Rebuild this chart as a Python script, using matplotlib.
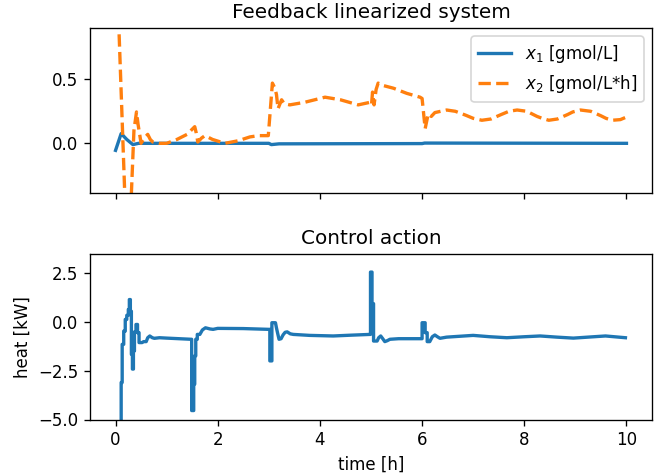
import matplotlib
matplotlib.use("Agg")
import matplotlib.pyplot as plt

# x1 state
t_x1 = [0.0, 0.11, 0.22, 0.34, 0.45, 3.0, 3.05, 3.2, 6.0, 6.05, 10.0]
x1 = [-0.055, 0.076, 0.03, -0.01, 0.0, 0.0, -0.01, -0.004, -0.002, 0.002, 0.0]

# x2 state
t_x2 = [0.0, 0.07, 0.18, 0.24, 0.31, 0.36, 0.41, 0.44, 0.50, 0.56, 0.63, 0.68, 0.73,
        0.85, 1.0, 1.2, 1.4, 1.55, 1.58, 1.61, 1.68, 1.75, 1.9, 2.14, 2.4, 2.63, 2.8,
        2.99, 3.07, 3.12, 3.15, 3.18, 3.25, 3.3, 3.41, 3.7, 4.1, 4.4, 4.75, 4.98, 5.01,
        5.03, 5.06, 5.10, 5.14, 5.25, 5.44, 5.7, 5.96, 6.0, 6.06, 6.12, 6.18, 6.25,
        6.48, 6.65, 6.85, 7.0, 7.17, 7.35, 7.55, 7.7, 7.86, 8.05, 8.25, 8.35, 8.48,
        8.65, 8.85, 8.95, 9.1, 9.3, 9.5, 9.6, 9.72, 9.88, 10.0]
x2 = [1.6, 0.85, -0.39, -0.6, -0.39, 0.10, 0.245, 0.15, 0.0, 0.04, 0.07, 0.03, 0.01,
      0.0, 0.0, 0.03, 0.07, 0.13, 0.08, 0.01, 0.04, 0.06, 0.03, 0.0, 0.02, 0.05, 0.06,
      0.06, 0.47, 0.43, 0.38, 0.27, 0.34, 0.31, 0.30, 0.32, 0.36, 0.34, 0.30, 0.32, 0.30,
      0.40, 0.30, 0.42, 0.47, 0.45, 0.43, 0.39, 0.36, 0.35, 0.115, 0.23, 0.21, 0.24,
      0.26, 0.25, 0.22, 0.195, 0.18, 0.19, 0.225, 0.25, 0.26, 0.25, 0.21, 0.195, 0.18,
      0.19, 0.225, 0.245, 0.26, 0.25, 0.215, 0.195, 0.18, 0.185, 0.205]

# control action
t_u = [0.0, 0.11, 0.11, 0.13, 0.13, 0.16, 0.16, 0.19, 0.19, 0.22, 0.22, 0.25, 0.25, 0.27,
       0.27, 0.29, 0.29, 0.31, 0.31, 0.33, 0.33, 0.35, 0.35, 0.37, 0.37, 0.40, 0.40, 0.43,
       0.43, 0.46, 0.46, 0.52, 0.55, 0.6, 0.63, 0.67, 0.72, 0.76, 0.86, 1.0, 1.48, 1.49,
       1.49, 1.53, 1.53, 1.55, 1.55, 1.57, 1.57, 1.60, 1.60, 1.65, 1.7, 1.76, 1.85, 1.91,
       2.0, 2.5, 3.0, 3.02, 3.02, 3.06, 3.06, 3.13, 3.15, 3.17, 3.2, 3.24, 3.28, 3.32,
       3.36, 3.42, 3.48, 3.8, 4.26, 4.6, 4.98, 4.99, 4.99, 5.02, 5.02, 5.05, 5.05, 5.12,
       5.15, 5.19, 5.23, 5.27, 5.32, 5.37, 5.54, 5.99, 6.0, 6.0, 6.06, 6.06, 6.1, 6.1,
       6.15, 6.2, 6.25, 6.3, 6.35, 6.48, 7.0, 7.33, 7.66, 8.0, 8.31, 8.64, 8.96, 9.3,
       9.59, 9.98]
u = [-8.0, -8.0, -3.1, -3.1, -1.14, -1.14, -0.46, -0.46, 0.14, 0.14, 0.35, 0.35, 0.65, 0.65,
     1.16, 1.16, 0.56, 0.56, -1.65, -1.65, -2.41, -2.41, -1.48, -1.48, -0.5, -0.5, -0.12, -0.12,
     -0.54, -0.54, -1.05, -1.05, -1.0, -1.0, -0.8, -0.71, -0.8, -0.83, -0.80, -0.82, -0.88, -0.88,
     -4.54, -4.54, -3.18, -3.18, -1.73, -1.73, -0.88, -0.88, -0.63, -0.63, -0.4, -0.29, -0.35, -0.37,
     -0.32, -0.33, -0.37, -0.37, -1.99, -1.99, -0.03, -0.03, -0.3, -0.54, -0.88, -0.85, -0.65, -0.52,
     -0.5, -0.6, -0.63, -0.68, -0.71, -0.67, -0.63, -0.63, 2.57, 2.57, 0.95, 0.95, -0.97, -0.97,
     -0.8, -0.71, -0.85, -1.0, -0.95, -0.88, -0.85, -0.85, -0.85, -0.03, -0.03, -0.54, -0.54, -1.0,
     -1.0, -0.75, -0.66, -0.75, -0.83, -0.77, -0.68, -0.75, -0.80, -0.75, -0.71, -0.77, -0.82, -0.76,
     -0.71, -0.80]

fig = plt.figure(figsize=(659 / 120, 475 / 120), dpi=120)
ax1 = fig.add_axes([90 / 659, 1 - 193.3 / 475, 562 / 659, 165.3 / 475])
ax2 = fig.add_axes([90 / 659, 1 - 419.5 / 475, 562 / 659, 165.5 / 475], sharex=ax1)

ax1.plot(t_x1, x1, color="#1f77b4", lw=2, label=r"$x_1$ [gmol/L]")
ax1.plot(t_x2, x2, color="#ff7f0e", lw=2, ls="--", label=r"$x_2$ [gmol/L*h]")
ax1.set_ylim(-0.39, 0.9)
ax1.set_yticks([0.0, 0.5])
ax1.set_title("Feedback linearized system")
ax1.legend(loc="upper right")
plt.setp(ax1.get_xticklabels(), visible=False)

ax2.plot(t_u, u, color="#1f77b4", lw=2)
ax2.set_ylim(-5.0, 3.5)
ax2.set_yticks([-5.0, -2.5, 0.0, 2.5])
ax2.set_title("Control action")
ax2.set_xlabel("time [h]")
ax2.set_ylabel("heat [kW]")
ax2.set_xlim(-0.5, 10.5)
ax2.set_xticks([0, 2, 4, 6, 8, 10])

fig.savefig("out.png", dpi=120)
